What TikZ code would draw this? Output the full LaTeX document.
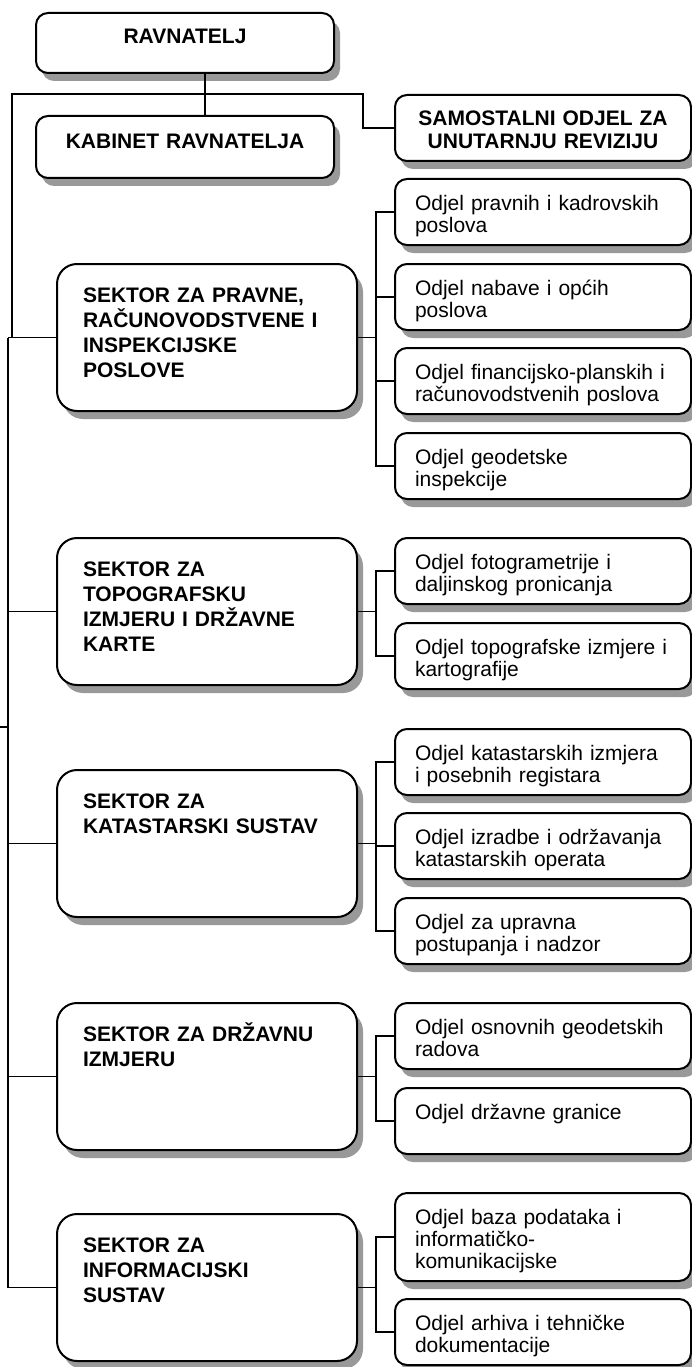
\documentclass[tikz,border=0pt]{standalone}
\usepackage{fontspec}
\setmainfont{Liberation Sans}
\usetikzlibrary{shadows}
\hyphenpenalty=10000
\exhyphenpenalty=10000

\tikzset{
	kutija/.style={draw, line width=2pt, fill=white, anchor=north west, inner ysep=0pt,
		drop shadow={shadow xshift=6pt, shadow yshift=-8pt, fill=black!40, opacity=1}},
	vrh/.style={kutija, rounded corners=12pt, align=center, inner xsep=10pt,
		font=\bfseries\fontsize{21}{23}\selectfont},
	sektor/.style={kutija, rounded corners=20pt, align=left, text width=248pt, inner xsep=26pt,
		text height=38pt, text depth=109pt, font=\bfseries\fontsize{21}{25}\selectfont},
	odjel/.style={kutija, rounded corners=12pt, align=left, text width=256pt, inner xsep=20pt,
		text height=31pt, text depth=35pt, font=\fontsize{21}{22}\selectfont},
	veza/.style={line width=1.7pt}
}

\begin{document}
\begin{tikzpicture}[x=1pt,y=-1pt]
	\useasboundingbox (0,0) rectangle (692,1367);
	% vrh
	\node[vrh, text width=278pt, text height=31pt, text depth=29pt] (ravnatelj) at (35,12) {RAVNATELJ};
	\node[vrh, text width=278pt, text height=33pt, text depth=29pt] (kabinet) at (35,115) {KABINET RAVNATELJA};
	\node[vrh, text width=276pt, text height=31pt, text depth=35pt] (revizija) at (394,94) {SAMOSTALNI ODJEL ZA\\UNUTARNJU REVIZIJU};
	% sektori
	\node[sektor] (s1) at (56,263) {SEKTOR ZA PRAVNE,\\RAČUNOVODSTVENE I\\INSPEKCIJSKE\\POSLOVE};
	\node[sektor] (s2) at (56,537) {SEKTOR ZA\\TOPOGRAFSKU\\IZMJERU I DRŽAVNE\\KARTE};
	\node[sektor] (s3) at (56,769) {SEKTOR ZA\\KATASTARSKI SUSTAV};
	\node[sektor] (s4) at (56,1002) {SEKTOR ZA DRŽAVNU\\IZMJERU};
	\node[sektor] (s5) at (56,1213) {SEKTOR ZA\\INFORMACIJSKI\\SUSTAV};
	% odjeli
	\node[odjel] (o11) at (394,178) {Odjel pravnih i kadrovskih\\poslova};
	\node[odjel] (o12) at (394,263) {Odjel nabave i općih\\poslova};
	\node[odjel] (o13) at (394,347) {Odjel financijsko-planskih i\\računovodstvenih poslova};
	\node[odjel] (o14) at (394,432) {Odjel geodetske\\inspekcije};
	\node[odjel] (o21) at (394,537) {Odjel fotogrametrije i\\daljinskog pronicanja};
	\node[odjel] (o22) at (394,622) {Odjel topografske izmjere i\\kartografije};
	\node[odjel] (o31) at (394,728) {Odjel katastarskih izmjera\\i posebnih registara};
	\node[odjel] (o32) at (394,812) {Odjel izradbe i održavanja\\katastarskih operata};
	\node[odjel] (o33) at (394,897) {Odjel za upravna\\postupanja i nadzor};
	\node[odjel] (o41) at (394,1002) {Odjel osnovnih geodetskih\\radova};
	\node[odjel] (o42) at (394,1087) {Odjel državne granice};
	\node[odjel, text depth=57pt] (o51) at (394,1192) {Odjel baza podataka i\\informatičko-\\komunikacijske};
	\node[odjel] (o52) at (394,1298) {Odjel arhiva i tehničke\\dokumentacije};
	% pomocne tocke
	\coordinate (lijevi) at (12,94);
	\coordinate (desni) at (363,94);
	\coordinate (kralj) at (8,0);
	\coordinate (crtica) at (0,727);
	% ravnatelj i kabinet
	\draw[veza] ([xshift=20pt]ravnatelj.south) -- ([xshift=20pt]kabinet.north);
	% razvod prema reviziji
	\draw[veza] (lijevi |- s1.west) -- (lijevi) -- (desni) |- (revizija.west);
	% okomica sektora
	\draw[veza] (kralj |- s1.west) |- (s5.west);
	\foreach \s in {s1,s2,s3,s4}
		\draw[veza] (kralj |- \s.west) -- (\s.west);
	\draw[veza] (crtica) -- (crtica -| kralj);
	% odjeli po sektorima
	\foreach \o in {o11,o12,o13,o14}
		\draw[veza] (s1.east) -- ++(18,0) |- (\o.west);
	\foreach \o in {o21,o22}
		\draw[veza] (s2.east) -- ++(18,0) |- (\o.west);
	\foreach \o in {o31,o32,o33}
		\draw[veza] (s3.east) -- ++(18,0) |- (\o.west);
	\foreach \o in {o41,o42}
		\draw[veza] (s4.east) -- ++(18,0) |- (\o.west);
	\foreach \o in {o51,o52}
		\draw[veza] (s5.east) -- ++(18,0) |- (\o.west);
\end{tikzpicture}
\end{document}
